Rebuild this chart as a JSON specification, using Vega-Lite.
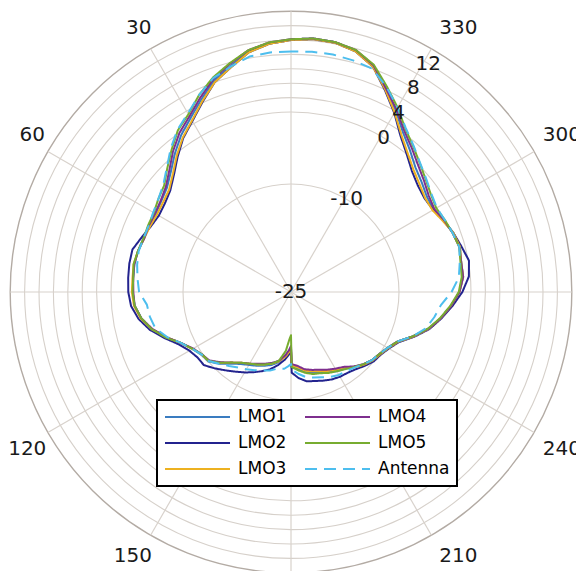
{
  "$schema": "https://vega.github.io/schema/vega-lite/v6.json",
  "width": 576,
  "height": 571,
  "autosize": {"type": "none"},
  "padding": 0,
  "background": "white",
  "config": {"view": {"stroke": null}, "font": "DejaVu Sans", "legend": {"strokeWidth": 2}},
  "datasets": {
    "rings": [{"v": -10}, {"v": 0}, {"v": 2}, {"v": 4}, {"v": 6}, {"v": 8}, {"v": 10}, {"v": 12}, {"v": 14}],
    "spokes": [{"a": 0}, {"a": 30}, {"a": 60}, {"a": 90}, {"a": 120}, {"a": 150}, {"a": 180}, {"a": 210}, {"a": 240}, {"a": 270}, {"a": 300}, {"a": 330}],
    "alabels": [{"a": 30}, {"a": 60}, {"a": 120}, {"a": 150}, {"a": 210}, {"a": 240}, {"a": 300}, {"a": 330}],
    "rlabels": [{"v": -25}, {"v": -10}, {"v": 0}, {"v": 4}, {"v": 8}, {"v": 12}],
    "pattern": [
      {"a": 0, "LMO1": 10.1, "LMO2": 10.0, "LMO3": 10.0, "LMO4": 10.1, "LMO5": 10.1, "Antenna": 8.4},
      {"a": 5, "LMO1": 9.7, "LMO2": 9.6, "LMO3": 9.6, "LMO4": 9.8, "LMO5": 9.8, "Antenna": 8.4},
      {"a": 10, "LMO1": 8.9, "LMO2": 8.8, "LMO3": 8.8, "LMO4": 9.1, "LMO5": 9.1, "Antenna": 8.2},
      {"a": 15, "LMO1": 7.5, "LMO2": 7.3, "LMO3": 7.3, "LMO4": 7.8, "LMO5": 7.9, "Antenna": 7.4},
      {"a": 20, "LMO1": 6.3, "LMO2": 6.0, "LMO3": 6.0, "LMO4": 6.5, "LMO5": 6.7, "Antenna": 6.6},
      {"a": 25, "LMO1": 4.5, "LMO2": 4.1, "LMO3": 4.2, "LMO4": 4.8, "LMO5": 5.2, "Antenna": 5.2},
      {"a": 30, "LMO1": 2.9, "LMO2": 2.4, "LMO3": 2.5, "LMO4": 3.2, "LMO5": 3.5, "Antenna": 3.65},
      {"a": 35, "LMO1": 1.6, "LMO2": 1.1, "LMO3": 1.2, "LMO4": 2.0, "LMO5": 2.4, "Antenna": 2.5},
      {"a": 40, "LMO1": 0.1, "LMO2": -0.5, "LMO3": -0.3, "LMO4": 0.5, "LMO5": 0.8, "Antenna": 1.0},
      {"a": 45, "LMO1": -1.4, "LMO2": -2.0, "LMO3": -1.8, "LMO4": -1.1, "LMO5": -0.7, "Antenna": -0.6},
      {"a": 50, "LMO1": -2.5, "LMO2": -3.1, "LMO3": -2.9, "LMO4": -2.3, "LMO5": -2.0, "Antenna": -1.85},
      {"a": 55, "LMO1": -3.0, "LMO2": -3.6, "LMO3": -3.3, "LMO4": -2.9, "LMO5": -2.5, "Antenna": -2.5},
      {"a": 60, "LMO1": -3.3, "LMO2": -3.8, "LMO3": -3.5, "LMO4": -3.2, "LMO5": -3.0, "Antenna": -2.9},
      {"a": 65, "LMO1": -3.3, "LMO2": -3.5, "LMO3": -3.4, "LMO4": -3.2, "LMO5": -3.1, "Antenna": -3.2},
      {"a": 70, "LMO1": -3.2, "LMO2": -2.9, "LMO3": -3.3, "LMO4": -3.3, "LMO5": -3.2, "Antenna": -3.2},
      {"a": 75, "LMO1": -3.0, "LMO2": -2.2, "LMO3": -3.0, "LMO4": -3.0, "LMO5": -3.0, "Antenna": -3.1},
      {"a": 80, "LMO1": -2.9, "LMO2": -2.2, "LMO3": -2.8, "LMO4": -2.9, "LMO5": -2.8, "Antenna": -3.3},
      {"a": 85, "LMO1": -3.0, "LMO2": -2.3, "LMO3": -2.9, "LMO4": -3.0, "LMO5": -3.0, "Antenna": -3.6},
      {"a": 90, "LMO1": -3.0, "LMO2": -2.4, "LMO3": -2.9, "LMO4": -3.1, "LMO5": -3.0, "Antenna": -3.9},
      {"a": 95, "LMO1": -3.2, "LMO2": -2.7, "LMO3": -3.1, "LMO4": -3.2, "LMO5": -3.2, "Antenna": -4.9},
      {"a": 100, "LMO1": -3.9, "LMO2": -3.5, "LMO3": -3.8, "LMO4": -3.9, "LMO5": -3.9, "Antenna": -5.1},
      {"a": 105, "LMO1": -5.0, "LMO2": -4.7, "LMO3": -5.0, "LMO4": -5.1, "LMO5": -5.0, "Antenna": -5.5},
      {"a": 110, "LMO1": -6.6, "LMO2": -6.3, "LMO3": -6.6, "LMO4": -6.6, "LMO5": -6.5, "Antenna": -6.7},
      {"a": 115, "LMO1": -8.2, "LMO2": -7.8, "LMO3": -8.2, "LMO4": -8.2, "LMO5": -8.2, "Antenna": -8.2},
      {"a": 120, "LMO1": -9.2, "LMO2": -8.7, "LMO3": -9.2, "LMO4": -9.3, "LMO5": -9.2, "Antenna": -9.2},
      {"a": 125, "LMO1": -9.8, "LMO2": -9.15, "LMO3": -9.85, "LMO4": -9.9, "LMO5": -9.9, "Antenna": -9.85},
      {"a": 130, "LMO1": -10.0, "LMO2": -9.2, "LMO3": -10.1, "LMO4": -10.2, "LMO5": -10.1, "Antenna": -10.1},
      {"a": 135, "LMO1": -10.9, "LMO2": -10.0, "LMO3": -11.1, "LMO4": -11.2, "LMO5": -11.1, "Antenna": -10.9},
      {"a": 140, "LMO1": -12.0, "LMO2": -10.8, "LMO3": -12.2, "LMO4": -12.2, "LMO5": -12.2, "Antenna": -11.6},
      {"a": 145, "LMO1": -12.8, "LMO2": -11.5, "LMO3": -13.0, "LMO4": -13.0, "LMO5": -13.0, "Antenna": -12.2},
      {"a": 150, "LMO1": -13.3, "LMO2": -12.1, "LMO3": -13.5, "LMO4": -13.5, "LMO5": -13.5, "Antenna": -12.6},
      {"a": 155, "LMO1": -13.7, "LMO2": -12.7, "LMO3": -13.9, "LMO4": -14.0, "LMO5": -13.9, "Antenna": -13.0},
      {"a": 160, "LMO1": -14.1, "LMO2": -13.3, "LMO3": -14.3, "LMO4": -14.4, "LMO5": -14.3, "Antenna": -13.4},
      {"a": 165, "LMO1": -14.5, "LMO2": -13.9, "LMO3": -14.7, "LMO4": -14.8, "LMO5": -14.7, "Antenna": -13.7},
      {"a": 170, "LMO1": -15.1, "LMO2": -14.7, "LMO3": -15.2, "LMO4": -15.3, "LMO5": -15.3, "Antenna": -14.2},
      {"a": 175, "LMO1": -16.1, "LMO2": -15.6, "LMO3": -16.0, "LMO4": -16.2, "LMO5": -16.8, "Antenna": -14.3},
      {"a": 178, "LMO1": -16.8, "LMO2": -16.3, "LMO3": -16.6, "LMO4": -16.9, "LMO5": -18.4, "Antenna": -14.7},
      {"a": 180, "LMO1": -17.3, "LMO2": -16.8, "LMO3": -17.0, "LMO4": -17.5, "LMO5": -19.0, "Antenna": -15.0},
      {"a": 180.5, "LMO1": -14.5, "LMO2": -13.8, "LMO3": -14.8, "LMO4": -15.0, "LMO5": -14.6, "Antenna": -14.2},
      {"a": 185, "LMO1": -14.3, "LMO2": -13.0, "LMO3": -14.5, "LMO4": -14.7, "LMO5": -14.1, "Antenna": -13.6},
      {"a": 190, "LMO1": -13.7, "LMO2": -12.4, "LMO3": -13.9, "LMO4": -14.1, "LMO5": -13.6, "Antenna": -13.0},
      {"a": 195, "LMO1": -13.4, "LMO2": -12.2, "LMO3": -13.6, "LMO4": -13.8, "LMO5": -13.2, "Antenna": -12.7},
      {"a": 200, "LMO1": -13.1, "LMO2": -11.9, "LMO3": -13.3, "LMO4": -13.5, "LMO5": -13.0, "Antenna": -12.4},
      {"a": 205, "LMO1": -12.7, "LMO2": -11.6, "LMO3": -12.9, "LMO4": -13.1, "LMO5": -12.6, "Antenna": -12.0},
      {"a": 210, "LMO1": -12.3, "LMO2": -11.4, "LMO3": -12.5, "LMO4": -12.7, "LMO5": -12.3, "Antenna": -11.7},
      {"a": 215, "LMO1": -12.0, "LMO2": -11.3, "LMO3": -12.2, "LMO4": -12.3, "LMO5": -11.9, "Antenna": -11.6},
      {"a": 220, "LMO1": -11.4, "LMO2": -11.0, "LMO3": -11.3, "LMO4": -11.5, "LMO5": -11.4, "Antenna": -11.3},
      {"a": 225, "LMO1": -10.8, "LMO2": -10.5, "LMO3": -10.7, "LMO4": -10.8, "LMO5": -10.8, "Antenna": -10.8},
      {"a": 230, "LMO1": -10.3, "LMO2": -10.0, "LMO3": -10.2, "LMO4": -10.3, "LMO5": -10.3, "Antenna": -10.3},
      {"a": 235, "LMO1": -10.0, "LMO2": -9.8, "LMO3": -9.9, "LMO4": -10.0, "LMO5": -10.0, "Antenna": -10.0},
      {"a": 240, "LMO1": -9.5, "LMO2": -9.3, "LMO3": -9.4, "LMO4": -9.5, "LMO5": -9.5, "Antenna": -9.5},
      {"a": 245, "LMO1": -8.7, "LMO2": -8.5, "LMO3": -8.6, "LMO4": -8.7, "LMO5": -8.7, "Antenna": -8.7},
      {"a": 250, "LMO1": -7.0, "LMO2": -6.8, "LMO3": -6.9, "LMO4": -7.0, "LMO5": -7.0, "Antenna": -7.0},
      {"a": 255, "LMO1": -5.3, "LMO2": -5.1, "LMO3": -5.2, "LMO4": -5.2, "LMO5": -5.3, "Antenna": -5.6},
      {"a": 260, "LMO1": -3.9, "LMO2": -3.8, "LMO3": -3.9, "LMO4": -3.9, "LMO5": -4.0, "Antenna": -4.8},
      {"a": 265, "LMO1": -2.7, "LMO2": -2.5, "LMO3": -2.7, "LMO4": -2.7, "LMO5": -2.8, "Antenna": -4.1},
      {"a": 270, "LMO1": -1.6, "LMO2": -1.2, "LMO3": -1.6, "LMO4": -1.6, "LMO5": -1.7, "Antenna": -2.7},
      {"a": 275, "LMO1": -1.0, "LMO2": -0.2, "LMO3": -1.0, "LMO4": -1.0, "LMO5": -1.2, "Antenna": -1.6},
      {"a": 280, "LMO1": -1.0, "LMO2": 0.1, "LMO3": -1.0, "LMO4": -1.0, "LMO5": -1.1, "Antenna": -1.2},
      {"a": 285, "LMO1": -0.7, "LMO2": -0.5, "LMO3": -0.7, "LMO4": -0.8, "LMO5": -0.8, "Antenna": -0.8},
      {"a": 290, "LMO1": -1.0, "LMO2": -1.0, "LMO3": -1.0, "LMO4": -1.1, "LMO5": -1.1, "Antenna": -1.1},
      {"a": 295, "LMO1": -1.6, "LMO2": -1.6, "LMO3": -1.7, "LMO4": -1.5, "LMO5": -1.4, "Antenna": -1.4},
      {"a": 300, "LMO1": -2.1, "LMO2": -2.2, "LMO3": -2.3, "LMO4": -2.0, "LMO5": -1.7, "Antenna": -1.6},
      {"a": 305, "LMO1": -1.95, "LMO2": -2.35, "LMO3": -2.25, "LMO4": -1.65, "LMO5": -1.3, "Antenna": -1.2},
      {"a": 310, "LMO1": -1.3, "LMO2": -2.0, "LMO3": -1.7, "LMO4": -0.9, "LMO5": -0.6, "Antenna": -0.5},
      {"a": 315, "LMO1": -0.55, "LMO2": -1.25, "LMO3": -0.95, "LMO4": -0.05, "LMO5": 0.3, "Antenna": 0.35},
      {"a": 320, "LMO1": 0.7, "LMO2": 0.0, "LMO3": 0.2, "LMO4": 1.1, "LMO5": 1.4, "Antenna": 1.5},
      {"a": 325, "LMO1": 2.1, "LMO2": 1.5, "LMO3": 1.7, "LMO4": 2.4, "LMO5": 2.7, "Antenna": 2.8},
      {"a": 330, "LMO1": 4.1, "LMO2": 3.7, "LMO3": 3.8, "LMO4": 4.3, "LMO5": 4.6, "Antenna": 4.6},
      {"a": 335, "LMO1": 6.2, "LMO2": 5.9, "LMO3": 6.0, "LMO4": 6.2, "LMO5": 6.5, "Antenna": 6.4},
      {"a": 340, "LMO1": 8.4, "LMO2": 8.3, "LMO3": 8.3, "LMO4": 8.5, "LMO5": 8.6, "Antenna": 8.0},
      {"a": 345, "LMO1": 9.7, "LMO2": 9.6, "LMO3": 9.6, "LMO4": 9.8, "LMO5": 9.8, "Antenna": 8.3},
      {"a": 350, "LMO1": 10.25, "LMO2": 10.15, "LMO3": 10.15, "LMO4": 10.25, "LMO5": 10.25, "Antenna": 8.5},
      {"a": 355, "LMO1": 10.35, "LMO2": 10.25, "LMO3": 10.25, "LMO4": 10.35, "LMO5": 10.35, "Antenna": 8.5},
      {"a": 360, "LMO1": 10.1, "LMO2": 10.0, "LMO3": 10.0, "LMO4": 10.1, "LMO5": 10.1, "Antenna": 8.4}
    ]
  },
  "layer": [
    {
      "data": {"name": "rings"},
      "transform": [{"filter": "datum.v < 14"}, {"calculate": "0", "as": "c"}, {"calculate": "-25", "as": "base"}],
      "mark": {"type": "arc", "theta": 0, "theta2": 6.2832, "filled": false, "stroke": "#d6d0ca", "strokeWidth": 1.1},
      "encoding": {
        "x": {"field": "c", "type": "quantitative", "scale": {"domain": [-40.417, 39.583], "zero": false, "nice": false}, "axis": null},
        "y": {"field": "c", "type": "quantitative", "scale": {"domain": [-38.75, 40.556], "zero": false, "nice": false}, "axis": null},
        "radius": {"field": "v", "type": "quantitative", "stack": null, "scale": {"type": "linear", "domain": [-25, 14], "range": [0, 280.8], "zero": false, "nice": false}, "legend": null},
        "radius2": {"field": "base"}
      }
    },
    {
      "data": {"name": "rings"},
      "transform": [{"filter": "datum.v == 14"}, {"calculate": "0", "as": "c"}, {"calculate": "-25", "as": "base"}],
      "mark": {"type": "arc", "theta": 0, "theta2": 6.2832, "filled": false, "stroke": "#b3aba4", "strokeWidth": 1.4},
      "encoding": {
        "x": {"field": "c", "type": "quantitative"},
        "y": {"field": "c", "type": "quantitative"},
        "radius": {"field": "v", "type": "quantitative", "stack": null, "legend": null},
        "radius2": {"field": "base"}
      }
    },
    {
      "data": {"name": "spokes"},
      "transform": [
        {"calculate": "0", "as": "c"},
        {"calculate": "-39 * sin(datum.a * PI / 180)", "as": "ex"},
        {"calculate": "39 * cos(datum.a * PI / 180)", "as": "ey"}
      ],
      "mark": {"type": "rule", "stroke": "#d8d2cc", "strokeWidth": 1.2},
      "encoding": {
        "x": {"field": "c", "type": "quantitative"},
        "y": {"field": "c", "type": "quantitative"},
        "x2": {"field": "ex"},
        "y2": {"field": "ey"}
      }
    },
    {
      "data": {"name": "pattern"},
      "transform": [
        {"fold": ["LMO1", "LMO2", "LMO3", "LMO4", "LMO5", "Antenna"], "as": ["series", "dB"]},
        {"calculate": "-(datum.dB + 25) * sin(datum.a * PI / 180)", "as": "px"},
        {"calculate": "(datum.dB + 25) * cos(datum.a * PI / 180)", "as": "py"}
      ],
      "mark": {"type": "line", "strokeWidth": 2, "strokeJoin": "round"},
      "encoding": {
        "x": {"field": "px", "type": "quantitative"},
        "y": {"field": "py", "type": "quantitative"},
        "order": {"field": "a", "type": "quantitative"},
        "color": {
          "field": "series", "type": "nominal",
          "scale": {"domain": ["LMO1", "LMO2", "LMO3", "LMO4", "LMO5", "Antenna"], "range": ["#3a7cc0", "#23238e", "#edb120", "#7e2f8e", "#77ac30", "#4dbeee"]},
          "legend": {"title": null, "orient": "none", "legendX": 157, "legendY": 400, "columns": 2, "symbolType": "stroke", "symbolSize": 4225, "symbolStrokeWidth": 2, "clipHeight": 20, "rowPadding": 6, "columnPadding": 17, "padding": 7, "labelFontSize": 17, "labelFont": "DejaVu Sans", "labelColor": "#000", "labelOffset": 7, "fillColor": "#ffffff", "strokeColor": "#000000"}
        },
        "strokeDash": {
          "field": "series", "type": "nominal",
          "scale": {"domain": ["LMO1", "LMO2", "LMO3", "LMO4", "LMO5", "Antenna"], "range": [[1, 0], [1, 0], [1, 0], [1, 0], [1, 0], [12, 7]]},
          "legend": {"title": null, "orient": "none", "legendX": 157, "legendY": 400, "columns": 2, "symbolType": "stroke", "symbolSize": 4225, "symbolStrokeWidth": 2, "clipHeight": 20, "rowPadding": 6, "columnPadding": 17, "padding": 7, "labelFontSize": 17, "labelFont": "DejaVu Sans", "labelColor": "#000", "labelOffset": 7, "fillColor": "#ffffff", "strokeColor": "#000000"}
        }
      }
    },
    {
      "data": {"name": "alabels"},
      "transform": [
        {"calculate": "-42.3 * sin(datum.a * PI / 180) + (datum.a == 330 || datum.a == 210 ? 2.1 : datum.a == 300 || datum.a == 240 ? 1.0 : datum.a == 60 ? 0.7 : datum.a == 150 ? -0.8 : 0)", "as": "lx"},
        {"calculate": "42.3 * cos(datum.a * PI / 180) + (datum.a == 60 || datum.a == 300 ? 0.6 : datum.a == 120 || datum.a == 240 ? -0.7 : 0)", "as": "ly"}
      ],
      "mark": {"type": "text", "fontSize": 20, "font": "DejaVu Sans", "color": "#1a1a1a", "align": "center", "baseline": "middle"},
      "encoding": {
        "x": {"field": "lx", "type": "quantitative"},
        "y": {"field": "ly", "type": "quantitative"},
        "text": {"field": "a", "type": "nominal"}
      }
    },
    {
      "data": {"name": "rlabels"},
      "transform": [
        {"calculate": "-(datum.v + 25) * sin(329 * PI / 180)", "as": "rx"},
        {"calculate": "(datum.v + 25) * cos(329 * PI / 180)", "as": "ry"}
      ],
      "mark": {"type": "text", "fontSize": 20, "font": "DejaVu Sans", "color": "#1a1a1a", "align": "center", "baseline": "middle"},
      "encoding": {
        "x": {"field": "rx", "type": "quantitative"},
        "y": {"field": "ry", "type": "quantitative"},
        "text": {"field": "v", "type": "nominal"}
      }
    }
  ]
}
